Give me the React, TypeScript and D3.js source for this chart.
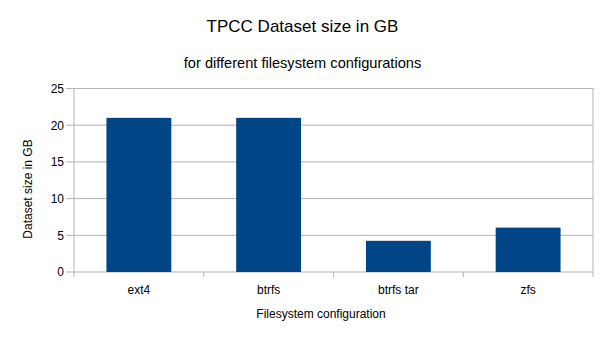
import React from "react";
import * as d3 from "d3";

const categories = ["ext4", "btrfs", "btrfs tar", "zfs"];
const values = [21.0, 21.0, 4.25, 6.05];
const yTicks = [0, 5, 10, 15, 20, 25];

const W = 605, H = 340;
const M = { left: 74, right: 12, top: 88.5, bottom: 68 };

export default function App() {
  const x = d3.scaleBand().domain(categories).range([M.left, W - M.right]).paddingInner(0.5).paddingOuter(0.25);
  const xb = d3.scaleBand().domain(categories).range([M.left, W - M.right]);
  const y = d3.scaleLinear().domain([0, 25]).range([H - M.bottom, M.top]);
  const font = "'Liberation Sans', Arial, sans-serif";
  const bottom = H - M.bottom;
  return (
    <svg width={W} height={H} style={{ position: "absolute", left: 0, top: 0, background: "#fff" }} fontFamily={font}>
      <rect width={W} height={H} fill="#fff" />
      <text x={302.5} y={31.5} textAnchor="middle" fontSize={17} fill="#000">TPCC Dataset size in GB</text>
      <text x={302.5} y={68} textAnchor="middle" fontSize={14.6} fill="#000">for different filesystem configurations</text>
      {yTicks.map((t) => (
        <g key={t}>
          <line x1={M.left - 8} x2={W - M.right} y1={y(t)} y2={y(t)} stroke="#b3b3b3" strokeWidth={1} />
          <text x={64} y={y(t) + 4.3} textAnchor="end" fontSize={12} fill="#000">{t}</text>
        </g>
      ))}
      <line x1={M.left} x2={M.left} y1={M.top} y2={bottom + 5} stroke="#b3b3b3" />
      <line x1={W - M.right} x2={W - M.right} y1={M.top} y2={bottom + 5} stroke="#b3b3b3" />
      {categories.slice(1).map((c) => (
        <line key={c} x1={xb(c)!} x2={xb(c)!} y1={bottom} y2={bottom + 5} stroke="#b3b3b3" />
      ))}
      {categories.map((c, i) => (
        <rect key={c} x={x(c)!} y={y(values[i])} width={x.bandwidth()} height={bottom - y(values[i])} fill="#004586" />
      ))}
      {categories.map((c) => (
        <text key={c} x={xb(c)! + xb.bandwidth() / 2} y={293.5} textAnchor="middle" fontSize={12} fill="#000">{c}</text>
      ))}
      <text x={321} y={317.5} textAnchor="middle" fontSize={12} fill="#000">Filesystem configuration</text>
      <text transform={`translate(32,189) rotate(-90)`} textAnchor="middle" fontSize={12} fill="#000">Dataset size in GB</text>
    </svg>
  );
}
